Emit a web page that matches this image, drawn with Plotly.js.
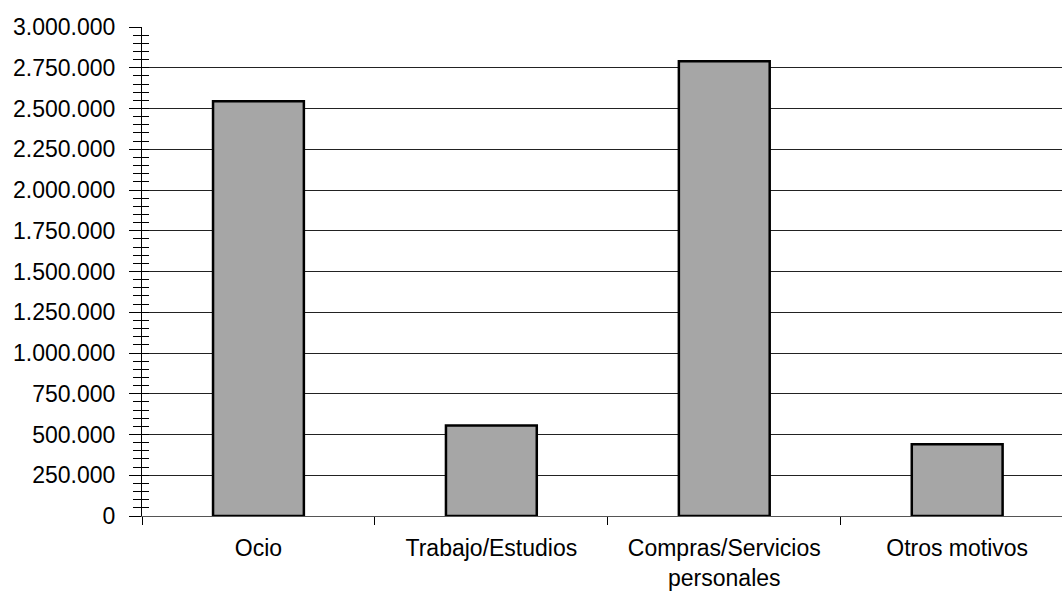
<!DOCTYPE html>
<html>
<head>
<meta charset="utf-8">
<script src="https://cdn.plot.ly/plotly-3.0.1.min.js"></script>
<style>html,body{margin:0;padding:0;background:#fff;}#chart{width:1062px;height:595px;}</style>
</head>
<body>
<div id="chart"></div>
<script>
const categories = ['Ocio', 'Trabajo/Estudios', 'Compras/Servicios<br>personales', 'Otros motivos'];
const values = [2545000, 555000, 2790000, 440000];
const yTickValues = [0, 250000, 500000, 750000, 1000000, 1250000, 1500000, 1750000, 2000000, 2250000, 2500000, 2750000, 3000000];

const font = {family: '"Liberation Sans", Arial, sans-serif', size: 23, color: '#000'};

const traces = [
  {
    type: 'bar',
    x: categories,
    y: values,
    width: 0.39,
    marker: {color: '#a6a6a6', line: {color: '#000', width: 2.5}},
    hoverinfo: 'skip'
  },
  {
    type: 'scatter',
    mode: 'markers',
    x: categories,
    y: values,
    yaxis: 'y2',
    marker: {opacity: 0},
    hoverinfo: 'skip',
    showlegend: false
  }
];

const layout = {
  width: 1062,
  height: 595,
  margin: {l: 142, r: 0, t: 27, b: 79},
  paper_bgcolor: '#fff',
  plot_bgcolor: '#fff',
  showlegend: false,
  separators: ',.',
  font: font,
  xaxis: {
    type: 'category',
    range: [-0.5, 3.45],
    tickson: 'boundaries',
    ticks: 'outside',
    ticklen: 8,
    tickwidth: 1,
    tickcolor: '#000',
    showgrid: false,
    showline: true,
    linecolor: '#555',
    linewidth: 1,
    ticklabelstandoff: 11,
    tickfont: font,
    fixedrange: true
  },
  yaxis: {
    range: [0, 3000000],
    tickmode: 'array',
    tickvals: yTickValues,
    tickformat: ',d',
    ticks: 'outside',
    ticklen: 12,
    tickwidth: 1,
    tickcolor: '#000',
    minor: {dtick: 50000, ticks: 'outside', ticklen: 8, tickwidth: 1, tickcolor: '#000', showgrid: false},
    showgrid: true,
    gridcolor: '#222',
    gridwidth: 1,
    zeroline: false,
    showline: true,
    linecolor: '#000',
    linewidth: 1,
    ticklabelstandoff: 9,
    tickfont: font,
    fixedrange: true
  },
  yaxis2: {
    overlaying: 'y',
    side: 'left',
    anchor: 'x',
    range: [0, 3000000],
    dtick: 50000,
    ticks: 'inside',
    ticklen: 7,
    tickwidth: 1,
    tickcolor: '#000',
    showticklabels: false,
    showgrid: false,
    zeroline: false,
    showline: false,
    fixedrange: true
  }
};

Plotly.newPlot('chart', traces, layout, {displayModeBar: false, staticPlot: true});
</script>
</body>
</html>
